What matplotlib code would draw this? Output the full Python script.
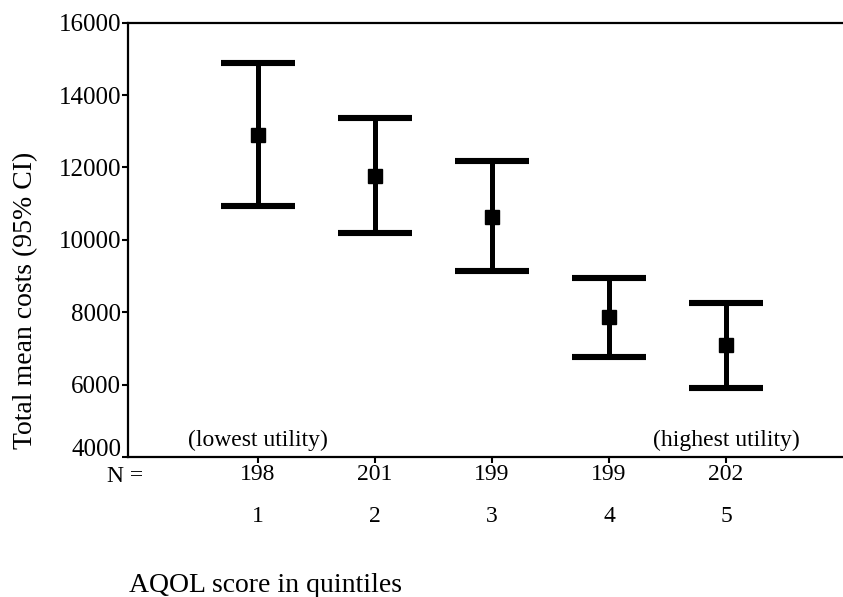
import matplotlib.pyplot as plt
import matplotlib.transforms as mtransforms
import numpy as np

plt.rcParams['font.family'] = ['Liberation Serif', 'DejaVu Serif']

# AQOL quintiles, mean costs with 95% CI
quintiles = [1, 2, 3, 4, 5]
counts = [198, 201, 199, 199, 202]
means = [12900, 11760, 10640, 7860, 7100]
upper = [14900, 13360, 12170, 8950, 8260]
lower = [10930, 10200, 9130, 6770, 5920]

fig = plt.figure(figsize=(8.43, 5.97), dpi=100)
ax = fig.add_axes([128 / 843, 1 - 457 / 597, 1 - 128 / 843, (457 - 22.7) / 597])

x = np.array(quintiles)
m = np.array(means)
yerr = np.vstack([m - np.array(lower), np.array(upper) - m])
ax.errorbar(x, m, yerr=yerr, fmt='s', color='black', ms=9.5,
            elinewidth=3.6, capsize=26.5, capthick=4.4)

ax.set_xlim(-0.11, 6.0)
ax.set_ylim(4000, 16000)
ax.set_yticks(range(4000, 16001, 2000))
ax.set_xticks(quintiles)
ax.set_xticklabels([])
ax.tick_params(axis='y', labelsize=18, length=4, width=1.5, pad=1)
ax.tick_params(axis='x', length=4, width=1.5)

# the bottom label sits a little higher, clear of the "N =" row
lab0 = ax.get_yticklabels()[0]
lab0.set_transform(lab0.get_transform() +
                   mtransforms.ScaledTranslation(0, 10 / 100, fig.dpi_scale_trans))

ax.spines['right'].set_visible(False)
for s in ['left', 'bottom', 'top']:
    ax.spines[s].set_linewidth(1.6)

trans = mtransforms.blended_transform_factory(ax.transData, ax.transAxes)
for q, n in zip(quintiles, counts):
    ax.text(q, -0.041, str(n), transform=trans, ha='center', va='center', fontsize=17)
    ax.text(q, -0.138, str(q), transform=trans, ha='center', va='center', fontsize=17)
fig.text(125 / 843, 1 - 476 / 597, 'N =', ha='center', va='center', fontsize=17)

ax.text(1, 4470, '(lowest utility)', ha='center', va='center', fontsize=17)
ax.text(5, 4470, '(highest utility)', ha='center', va='center', fontsize=17)

fig.text(26 / 843, 1 - 300 / 597, 'Total mean costs (95% CI)', rotation=90,
         ha='center', va='center', fontsize=20)
fig.text(129 / 843, 1 - 585 / 597, 'AQOL score in quintiles', ha='left',
         va='center', fontsize=20)

fig.savefig('out.png', dpi=100)
